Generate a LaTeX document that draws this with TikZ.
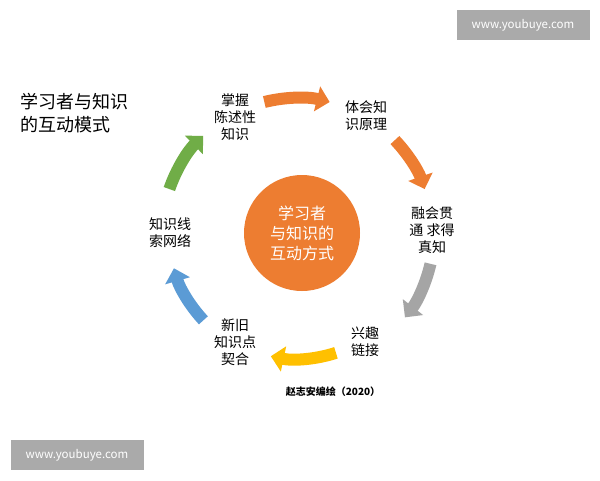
\documentclass[tikz,border=0pt]{standalone}
\usepackage{fontspec}
\setmainfont{Noto Sans CJK SC}
\usetikzlibrary{arrows.meta,calc}
\definecolor{org}{HTML}{ED7D31}
\definecolor{gry}{HTML}{A5A5A5}
\definecolor{yel}{HTML}{FFC000}
\definecolor{blu}{HTML}{5B9BD5}
\definecolor{grn}{HTML}{70AD47}
\definecolor{wm}{HTML}{AAAAAA}
\tikzset{
  lbl/.style={align=center,font=\fontsize{14}{17}\selectfont,inner sep=1pt},
  arr/.style={line width=12pt,-{Triangle[width=25pt,length=13pt]}},
  wmbox/.style={fill=wm,text=white,font=\fontsize{11.5}{13}\selectfont,minimum width=133pt,minimum height=30pt,inner sep=0pt}
}
\begin{document}
\begin{tikzpicture}[x=1pt,y=-1pt]
\useasboundingbox (0,0) rectangle (600,480);
\fill[white] (0,0) rectangle (600,480);
\coordinate (c) at (297,233);
\node[circle,fill=org,minimum size=116pt,text=white,align=center,font=\fontsize{16}{20}\selectfont] (ctr) at (302,233) {学习者\\与知识的\\互动方式};
\draw[arr,org] ($(c)+(104:135 and -135)$) arc[start angle=-104,end angle=-76,radius=135];
\draw[arr,org] ($(c)+(-43.5:135)$) arc[start angle=-43.5,end angle=-19,radius=135];
\draw[arr,gry] ($(c)+(13:137)$) arc[start angle=13,end angle=38,radius=137];
\draw[arr,yel] ($(c)+(72:126)$) arc[start angle=72,end angle=102,radius=126];
\draw[arr,blu] ($(c)+(137:128)$) arc[start angle=137,end angle=164,radius=128];
\draw[arr,grn] ($(c)+(-161:135)$) arc[start angle=-161,end angle=-134,radius=135];
\node[lbl] (a) at (235,117) {掌握\\陈述性\\知识};
\node[lbl] (b) at (366,116) {体会知\\识原理};
\node[lbl] (d) at (432,230) {融会贯\\通 求得\\真知};
\node[lbl] (e) at (365,342) {兴趣\\链接};
\node[lbl] (f) at (235,342) {新旧\\知识点\\契合};
\node[lbl] (g) at (170,233) {知识线\\索网络};
\node[align=left,anchor=west,font=\fontsize{18}{23}\selectfont,inner sep=0pt] (t) at (20,113) {学习者与知识\\的互动模式};
\node[font=\bfseries\fontsize{10}{12}\selectfont] (cap) at (333,392) {赵志安编绘（2020）};
\node[wmbox] (w1) at (523,25) {www.youbuye.com};
\node[wmbox] (w2) at (77,455) {www.youbuye.com};
\end{tikzpicture}
\end{document}
